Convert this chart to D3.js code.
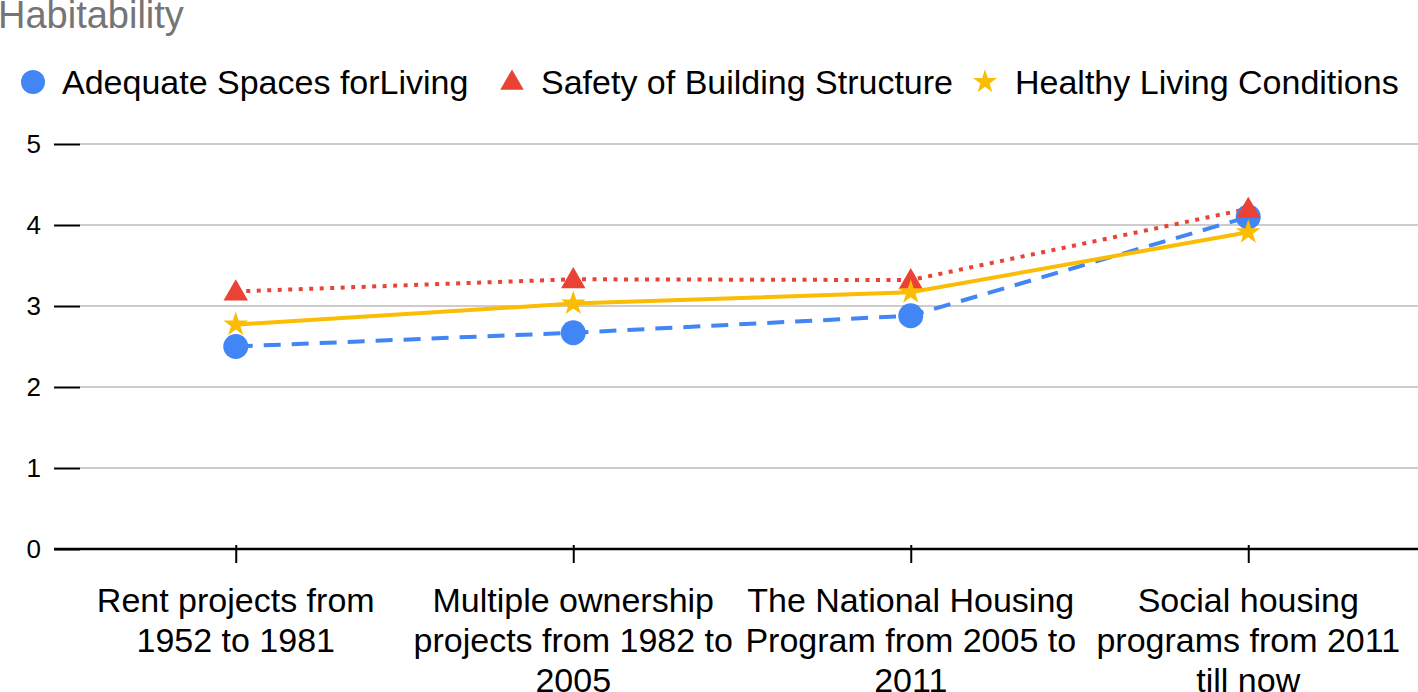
<!DOCTYPE html>
<html><head><meta charset="utf-8">
<script src="https://cdn.jsdelivr.net/npm/d3@7/dist/d3.min.js"></script>
<style>body{margin:0;background:#fff;}svg{display:block;font-family:"Liberation Sans",Arial,sans-serif;}</style>
</head><body>
<script>
const title = "Habitability";
const categories = [
  ["Rent projects from", "1952 to 1981"],
  ["Multiple ownership", "projects from 1982 to", "2005"],
  ["The National Housing", "Program from 2005 to", "2011"],
  ["Social housing", "programs from 2011", "till now"]
];
const seriesNames = ["Adequate Spaces forLiving", "Safety of Building Structure", "Healthy Living Conditions"];
const adequateSpaces = [2.5, 2.67, 2.88, 4.1];
const safetyStructure = [3.18, 3.33, 3.32, 4.2];
const healthyConditions = [2.77, 3.03, 3.17, 3.91];
const yTicks = [0, 1, 2, 3, 4, 5];

const W = 1418, H = 692;
const svg = d3.select("body").append("svg").attr("width", W).attr("height", H);

const x = d3.scalePoint().domain(d3.range(categories.length)).range([67, 1417]).padding(0.5);
const y = d3.scaleLinear().domain([0, 5]).range([549, 144]);

// title
svg.append("text").attr("x", -2).attr("y", 28).attr("font-size", 38).attr("fill", "#757575").text(title);

// gridlines
svg.append("g").selectAll("line").data(yTicks.filter(d => d > 0)).join("line")
  .attr("x1", 80).attr("x2", W).attr("y1", d => y(d)).attr("y2", d => y(d))
  .attr("stroke", "#cccccc").attr("stroke-width", 2);

// y axis
const yAxis = svg.append("g").attr("transform", "translate(80,0)")
  .call(d3.axisLeft(y).tickValues(yTicks).tickSize(26).tickPadding(13).tickFormat(d3.format("d")));
yAxis.select(".domain").remove();
yAxis.selectAll(".tick line").attr("stroke", "#000").attr("stroke-width", 2);
yAxis.selectAll(".tick text").attr("font-size", 26).attr("fill", "#000").attr("font-family", "Liberation Sans, Arial, sans-serif");

// baseline
svg.append("line").attr("x1", 54).attr("x2", W).attr("y1", y(0)).attr("y2", y(0)).attr("stroke", "#000").attr("stroke-width", 2.5);

// x axis
const xAxis = svg.append("g").attr("transform", `translate(0,${y(0)})`)
  .call(d3.axisBottom(x).tickSize(14).tickFormat(""));
xAxis.select(".domain").remove();
xAxis.selectAll(".tick line").attr("stroke", "#000").attr("stroke-width", 2).attr("y1", -4);

const lab = svg.append("g").selectAll("text").data(categories).join("text")
  .attr("x", (d, i) => x(i)).attr("y", 612).attr("text-anchor", "middle")
  .attr("font-size", 34).attr("fill", "#000");
lab.selectAll("tspan").data(d => d).join("tspan")
  .attr("x", function() { return d3.select(this.parentNode).attr("x"); })
  .attr("dy", (d, i) => i === 0 ? 0 : 40).text(d => d);

const line = d3.line().x((d, i) => x(i)).y(d => y(d));
const colors = ["#4285F4", "#EA4335", "#FBBC04"];
const data = [adequateSpaces, safetyStructure, healthyConditions];
const dashes = ["17,11", "4,6.5", null];

data.forEach((s, k) => {
  svg.append("path").datum(s).attr("d", line).attr("fill", "none")
    .attr("stroke", colors[k]).attr("stroke-width", 4)
    .attr("stroke-dasharray", dashes[k]);
});

const symCircle = d3.symbol().type(d3.symbolCircle).size(Math.PI * 12.5 * 12.5);
const symTri = d3.symbol().type(d3.symbolTriangle).size(260);
const symStar = d3.symbol().type(d3.symbolStar).size(190);
const syms = [symCircle, symTri, symStar];

data.forEach((s, k) => {
  svg.append("g").selectAll("path").data(s).join("path")
    .attr("transform", (d, i) => `translate(${x(i)},${y(d) + (k === 1 ? 2 : 0)})`)
    .attr("d", syms[k]()).attr("fill", colors[k]);
});

// legend
const legendItems = [
  {sx: 33, tx: 62},
  {sx: 512, tx: 541},
  {sx: 985, tx: 1015}
];
const lg = svg.append("g");
legendItems.forEach((it, k) => {
  const sz = k === 0 ? Math.PI * 12 * 12 : (k === 1 ? 240 : 180);
  lg.append("path").attr("transform", `translate(${it.sx},${82 + (k === 1 ? 1 : 0)})`)
    .attr("d", d3.symbol().type([d3.symbolCircle, d3.symbolTriangle, d3.symbolStar][k]).size(sz)())
    .attr("fill", colors[k]);
  lg.append("text").attr("x", it.tx).attr("y", 94).attr("font-size", 34).attr("fill", "#000").text(seriesNames[k]);
});
</script>
</body></html>
